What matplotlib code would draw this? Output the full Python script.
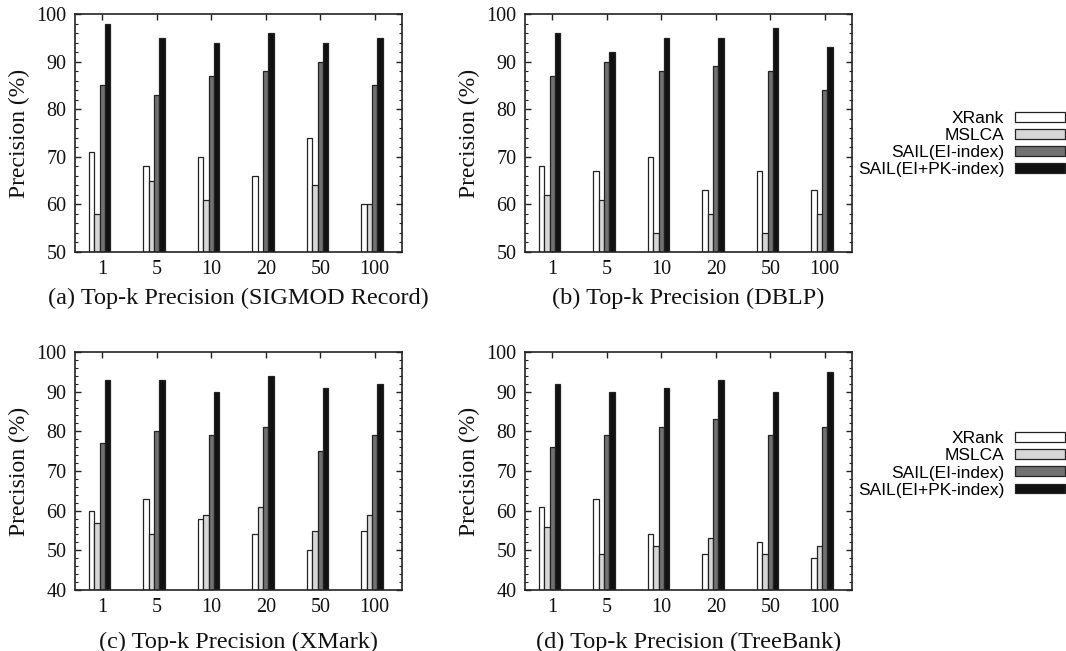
import matplotlib
matplotlib.use("Agg")
import matplotlib.pyplot as plt
import numpy as np
from matplotlib.ticker import MultipleLocator

# data
topk = ["1", "5", "10", "20", "50", "100"]
methods = ["XRank", "MSLCA", "SAIL(EI-index)", "SAIL(EI+PK-index)"]
colors = ["#ffffff", "#d6d6d6", "#717171", "#111111"]

sigmod_xrank = [71, 68, 70, 66, 74, 60]
sigmod_mslca = [58, 65, 61, 50, 64, 60]
sigmod_ei = [85, 83, 87, 88, 90, 85]
sigmod_eipk = [98, 95, 94, 96, 94, 95]

dblp_xrank = [68, 67, 70, 63, 67, 63]
dblp_mslca = [62, 61, 54, 58, 54, 58]
dblp_ei = [87, 90, 88, 89, 88, 84]
dblp_eipk = [96, 92, 95, 95, 97, 93]

xmark_xrank = [60, 63, 58, 54, 50, 55]
xmark_mslca = [57, 54, 59, 61, 55, 59]
xmark_ei = [77, 80, 79, 81, 75, 79]
xmark_eipk = [93, 93, 90, 94, 91, 92]

tree_xrank = [61, 63, 54, 49, 52, 48]
tree_mslca = [56, 49, 51, 53, 49, 51]
tree_ei = [76, 79, 81, 83, 79, 81]
tree_eipk = [92, 90, 91, 93, 90, 95]

panels = [
    ("(a) Top-k Precision (SIGMOD Record)", [sigmod_xrank, sigmod_mslca, sigmod_ei, sigmod_eipk], 50),
    ("(b) Top-k Precision (DBLP)", [dblp_xrank, dblp_mslca, dblp_ei, dblp_eipk], 50),
    ("(c) Top-k Precision (XMark)", [xmark_xrank, xmark_mslca, xmark_ei, xmark_eipk], 40),
    ("(d) Top-k Precision (TreeBank)", [tree_xrank, tree_mslca, tree_ei, tree_eipk], 40),
]

W, H = 1066, 651
fig = plt.figure(figsize=(W / 100, H / 100), dpi=100)
serif = ["Liberation Serif", "DejaVu Serif"]
sans = ["Liberation Sans", "DejaVu Sans"]

# axes boxes in pixels: left, top, right, bottom
boxes = [(75, 14, 402, 252), (525, 14, 852, 252), (75, 352, 402, 590), (525, 352, 852, 590)]
cap_y = [-0.195, -0.195, -0.22, -0.22]

x = np.arange(len(topk))
bw = 0.1
for k, (title, series, ymin) in enumerate(panels):
    l, t, r, b = boxes[k]
    ax = fig.add_axes([l / W, 1 - b / H, (r - l) / W, (b - t) / H])
    handles = []
    for j, vals in enumerate(series):
        h = ax.bar(x + (j - 2) * bw, np.array(vals) - ymin, bw, bottom=ymin,
                   color=colors[j], edgecolor="#222222", linewidth=0.9, zorder=2)
        handles.append(h)
    ax.set_xlim(-0.5, len(topk) - 0.5)
    ax.set_ylim(ymin, 100)
    ax.set_xticks(x)
    ax.set_xticklabels(topk, fontfamily=serif, fontsize=14.5, color="#111111")
    ax.yaxis.set_major_locator(MultipleLocator(10))
    ax.yaxis.set_minor_locator(MultipleLocator(2))
    for lab in ax.get_yticklabels():
        lab.set_fontfamily(serif)
        lab.set_fontsize(14.5)
        lab.set_color("#111111")
    ax.tick_params(which="both", direction="in", top=True, right=True, color="#222222")
    ax.tick_params(which="major", length=4.5, width=1)
    ax.tick_params(which="minor", length=2.3, width=0.8)
    ax.tick_params(axis="x", which="minor", top=False, bottom=False)
    ax.tick_params(axis="x", pad=6)
    ax.tick_params(axis="y", pad=6)
    for s in ax.spines.values():
        s.set_linewidth(1.2)
        s.set_color("#222222")
    ax.set_ylabel("Precision (%)", fontfamily=serif, fontsize=17, color="#111111")
    ax.yaxis.set_label_coords(-0.137, 0.5)
    ax.text(0.5, cap_y[k], title, transform=ax.transAxes, ha="center", va="center",
            fontfamily=serif, fontsize=17.5, color="#111111")
    if k in (1, 3):
        yc = 144 if k == 1 else 464.5
        fig.legend(handles, methods, loc="center right",
                   bbox_to_anchor=(1065 / W, 1 - yc / H), markerfirst=False,
                   frameon=False, prop={"family": sans, "size": 12.5},
                   handlelength=2.9, handleheight=0.5, handletextpad=0.6,
                   labelspacing=0.12, borderpad=0, borderaxespad=0)

plt.savefig("out.png", dpi=100)
